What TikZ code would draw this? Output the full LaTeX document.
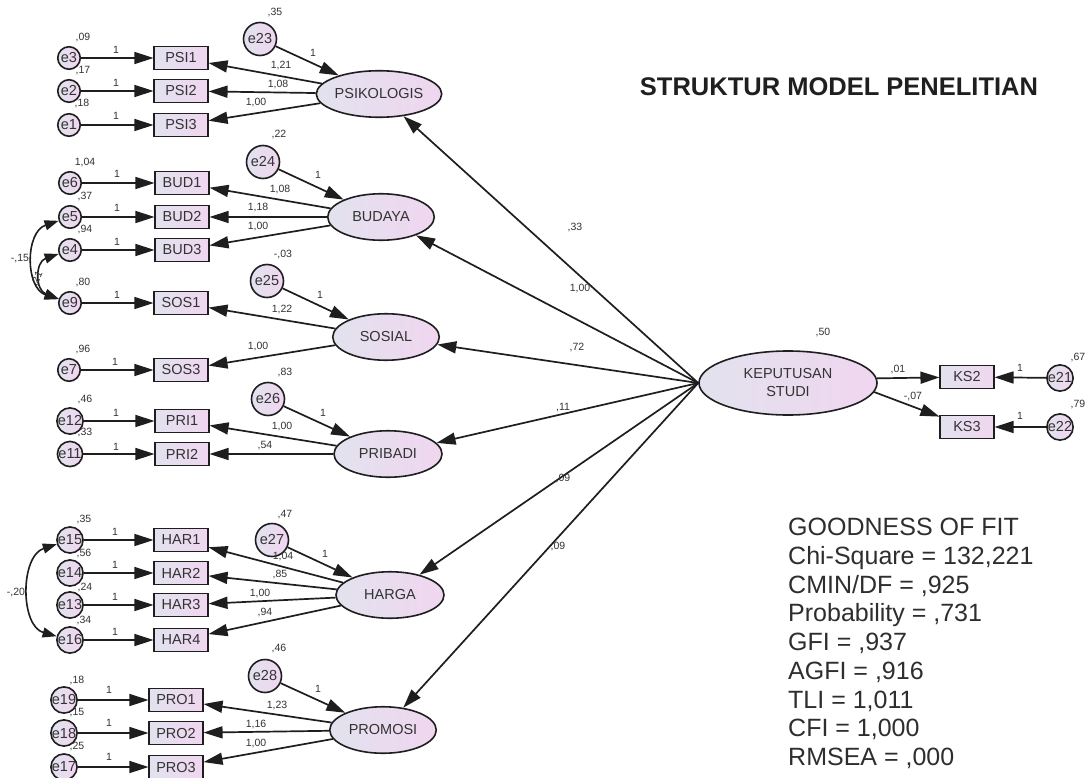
\documentclass[tikz,border=0pt]{standalone}
\usepackage{fontspec}
\setmainfont{Liberation Sans}
\usetikzlibrary{arrows.meta,shapes.geometric}
\definecolor{lnc}{HTML}{1E1E1E}
\definecolor{txc}{HTML}{333333}
\definecolor{fa}{HTML}{E2E2EE}
\definecolor{fb}{HTML}{F0D6F0}
\tikzset{
 basenode/.style={draw=lnc, line width=1.6pt, left color=fa, right color=fb, text=txc, inner sep=0pt, font=\fontsize{14.5}{16}\selectfont},
 obsv/.style={basenode, rectangle, minimum width=53.5pt, minimum height=23pt},
 errs/.style={basenode, circle, minimum size=22.5pt},
 errb/.style={basenode, circle, minimum size=33pt},
 lat/.style={basenode, ellipse, minimum width=106.5pt, minimum height=46.5pt},
 pth/.style={draw=lnc, line width=1.7pt, -{Triangle[length=19pt,width=12pt]}},
 cov/.style={draw=lnc, line width=1.6pt, {Triangle[length=14pt,width=10pt]}-{Triangle[length=14pt,width=10pt]}},
 lbl/.style={text=txc, inner sep=0pt, font=\fontsize{10.5}{12}\selectfont},
}
\begin{document}
\begin{tikzpicture}[x=1pt,y=-1pt]
\fill[white] (0,0) rectangle (1086,778);
\useasboundingbox (0,0) rectangle (1086,778);

% ---------- PSIKOLOGIS block
\node[errs] (e3) at (69,58) {e3};
\node[errs] (e2) at (69,91) {e2};
\node[errs] (e1) at (69,125) {e1};
\node[obsv] (PSI1) at (181,58) {PSI1};
\node[obsv] (PSI2) at (181,91) {PSI2};
\node[obsv] (PSI3) at (181,125) {PSI3};
\node[errb] (e23) at (260,39) {e23};
\node[lat] (PSIK) at (379,94) {PSIKOLOGIS};

% ---------- BUDAYA block
\node[errs] (e6) at (70,183) {e6};
\node[errs] (e5) at (70,217) {e5};
\node[errs] (e4) at (70,250) {e4};
\node[obsv] (BUD1) at (182,183) {BUD1};
\node[obsv] (BUD2) at (182,217) {BUD2};
\node[obsv] (BUD3) at (182,250) {BUD3};
\node[errb] (e24) at (263,162) {e24};
\node[lat] (BUD) at (381,217) {BUDAYA};

% ---------- SOSIAL block
\node[errs] (e9) at (70,303) {e9};
\node[errs] (e7) at (69,370) {e7};
\node[obsv] (SOS1) at (181,303) {SOS1};
\node[obsv] (SOS3) at (181,370) {SOS3};
\node[errb] (e25) at (267,281) {e25};
\node[lat] (SOS) at (386,337) {SOSIAL};

% ---------- PRIBADI block
\node[errs] (e12) at (70,421) {e12};
\node[errs] (e11) at (70,454) {e11};
\node[obsv] (PRI1) at (182,421) {PRI1};
\node[obsv] (PRI2) at (182,454) {PRI2};
\node[errb] (e26) at (268,399) {e26};
\node[lat, minimum width=108pt] (PRI) at (388,454) {PRIBADI};

% ---------- HARGA block
\node[errs] (e15) at (70,540) {e15};
\node[errs] (e14) at (70,573) {e14};
\node[errs] (e13) at (70,605) {e13};
\node[errs] (e16) at (70,640) {e16};
\node[obsv] (HAR1) at (181,540) {HAR1};
\node[obsv] (HAR2) at (181,573) {HAR2};
\node[obsv] (HAR3) at (181,605) {HAR3};
\node[obsv] (HAR4) at (181,640) {HAR4};
\node[errb] (e27) at (272,540) {e27};
\node[lat, minimum width=108pt] (HAR) at (390,595) {HARGA};

% ---------- PROMOSI block
\node[errs] (e19) at (64,700) {e19};
\node[errs] (e18) at (64,733) {e18};
\node[errs] (e17) at (64,767) {e17};
\node[obsv] (PRO1) at (176,700) {PRO1};
\node[obsv] (PRO2) at (176,733) {PRO2};
\node[obsv] (PRO3) at (176,767) {PRO3};
\node[errb] (e28) at (265,676) {e28};
\node[lat] (PRO) at (383,730) {PROMOSI};

% ---------- KEPUTUSAN STUDI
\node[lat, minimum width=178pt, minimum height=64pt, align=center, font=\fontsize{14.5}{18}\selectfont] (KEP) at (788,383) {KEPUTUSAN\\STUDI};
\node[obsv] (KS2) at (967,377) {KS2};
\node[obsv] (KS3) at (967,427) {KS3};
\node[errs] (e21) at (1060,378) {e21};
\node[errs] (e22) at (1060,427) {e22};

% ---------- paths: errors to indicators
\foreach \a/\b in {e3/PSI1,e2/PSI2,e1/PSI3,e6/BUD1,e5/BUD2,e4/BUD3,e9/SOS1,e7/SOS3,e12/PRI1,e11/PRI2,e15/HAR1,e14/HAR2,e13/HAR3,e16/HAR4,e19/PRO1,e18/PRO2,e17/PRO3,e21/KS2,e22/KS3}
  \draw[pth] (\a) -- (\b);
% latent to indicators
\foreach \a/\b in {PSIK/PSI1,PSIK/PSI2,PSIK/PSI3,BUD/BUD1,BUD/BUD2,BUD/BUD3,SOS/SOS1,SOS/SOS3,PRI/PRI1,PRI/PRI2,HAR/HAR1,HAR/HAR2,HAR/HAR3,HAR/HAR4,PRO/PRO1,PRO/PRO2,PRO/PRO3}
  \draw[pth] (\a) -- (\b);
% disturbances
\foreach \a/\b in {e23/PSIK,e24/BUD,e25/SOS,e26/PRI,e27/HAR,e28/PRO}
  \draw[pth] (\a) -- (\b);
% structural paths
\foreach \b in {PSIK,BUD,SOS,PRI,HAR,PRO}
  \draw[pth] (KEP.west) -- (\b);
\draw[pth] (KEP.3) -- (KS2);
\draw[pth] (KEP.-6) -- (KS3);

% covariances
\draw[cov] (e5) .. controls (25,232) and (25,288) .. (e9);
\draw[cov] (e4) .. controls (35,262) and (35,290) .. (e9);
\draw[cov] (e15) .. controls (20,556) and (20,626) .. (e16);

% ---------- labels
\node[lbl] (v35) at (275,13) {,35};
\node[lbl] (v09) at (83,38) {,09};
\node[lbl] (v17) at (83,71) {,17};
\node[lbl] (v18) at (82,104) {,18};
\node[lbl] (o3) at (116,50) {1};
\node[lbl] (o2) at (116,83) {1};
\node[lbl] (o1) at (116,116) {1};
\node[lbl] (w121) at (281,66) {1,21};
\node[lbl] (w108a) at (278,85) {1,08};
\node[lbl] (w100a) at (256,103) {1,00};
\node[lbl] (o23) at (313,53) {1};

\node[lbl] (v22) at (279,135) {,22};
\node[lbl] (v104) at (85,163) {1,04};
\node[lbl] (v37) at (85,197) {,37};
\node[lbl] (v94) at (85,230) {,94};
\node[lbl] (o6) at (117,174) {1};
\node[lbl] (o5) at (117,208) {1};
\node[lbl] (o4) at (117,242) {1};
\node[lbl] (o24) at (318,175) {1};
\node[lbl] (w108b) at (280,190) {1,08};
\node[lbl] (w118) at (258,208) {1,18};
\node[lbl] (w100b) at (258,227) {1,00};
\node[lbl] (v03) at (283,255) {-,03};
\node[lbl] (v80) at (83,283) {,80};
\node[lbl] (o9) at (117,295) {1};
\node[lbl] (c15) at (20,259) {-,15};
\node[lbl, rotate=65] (c21) at (37,279) {,21};
\node[lbl] (o25) at (320,295) {1};

\node[lbl] (w122) at (282,310) {1,22};
\node[lbl] (w100c) at (258,347) {1,00};
\node[lbl] (v96) at (83,350) {,96};
\node[lbl] (o7) at (115,362) {1};
\node[lbl] (v83) at (285,373) {,83};
\node[lbl] (v46a) at (85,400) {,46};
\node[lbl] (v33) at (85,433) {,33};
\node[lbl] (o12) at (116,413) {1};
\node[lbl] (o11) at (116,447) {1};
\node[lbl] (o26) at (323,413) {1};
\node[lbl] (w100d) at (282,427) {1,00};
\node[lbl] (w54) at (265,446) {,54};

\node[lbl] (v35b) at (84,520) {,35};
\node[lbl] (v56) at (84,554) {,56};
\node[lbl] (v24) at (85,587) {,24};
\node[lbl] (v34) at (84,620) {,34};
\node[lbl] (o15) at (115,532) {1};
\node[lbl] (o14) at (115,565) {1};
\node[lbl] (o13) at (115,597) {1};
\node[lbl] (o16) at (115,632) {1};
\node[lbl] (v47) at (285,515) {,47};
\node[lbl] (o27) at (325,554) {1};
\node[lbl] (w104) at (283,557) {1,04};
\node[lbl] (w85) at (280,575) {,85};
\node[lbl] (w100e) at (260,593) {1,00};
\node[lbl] (w94) at (265,612) {,94};
\node[lbl] (c20) at (16,592) {-,20};

\node[lbl] (v46b) at (279,648) {,46};
\node[lbl] (v18b) at (77,680) {,18};
\node[lbl] (v15) at (77,713) {,15};
\node[lbl] (v25) at (77,746) {,25};
\node[lbl] (o19) at (109,690) {1};
\node[lbl] (o18) at (109,723) {1};
\node[lbl] (o17) at (109,757) {1};
\node[lbl] (o28) at (318,689) {1};
\node[lbl] (w123) at (277,705) {1,23};
\node[lbl] (w116) at (256,724) {1,16};
\node[lbl] (w100f) at (256,743) {1,00};

\node[lbl] (v50) at (823,333) {,50};
\node[lbl] (w01) at (898,370) {,01};
\node[lbl] (w07) at (913,397) {-,07};
\node[lbl] (o21) at (1020,368) {1};
\node[lbl] (o22) at (1020,416) {1};
\node[lbl] (v67) at (1078,358) {,67};
\node[lbl] (v79) at (1078,405) {,79};

\node[lbl] (s33) at (575,228) {,33};
\node[lbl] (s100) at (580,289) {1,00};
\node[lbl] (s72) at (577,348) {,72};
\node[lbl] (s11) at (563,408) {,11};
\node[lbl] (s09a) at (563,479) {,09};
\node[lbl] (s09b) at (558,547) {,09};

% ---------- title and fit
\node[font=\bfseries\fontsize{25.5}{29}\selectfont, text=black!88, inner sep=0pt] (title) at (839,87) {STRUKTUR MODEL PENELITIAN};
\node[anchor=north west, align=left, inner sep=0pt, text=black!82, font=\fontsize{25}{28.75}\selectfont] (gof) at (788,518)
 {GOODNESS OF FIT\\Chi-Square = 132,221\\CMIN/DF = ,925\\Probability = ,731\\GFI = ,937\\AGFI = ,916\\TLI = 1,011\\CFI = 1,000\\RMSEA = ,000};
\end{tikzpicture}
\end{document}
